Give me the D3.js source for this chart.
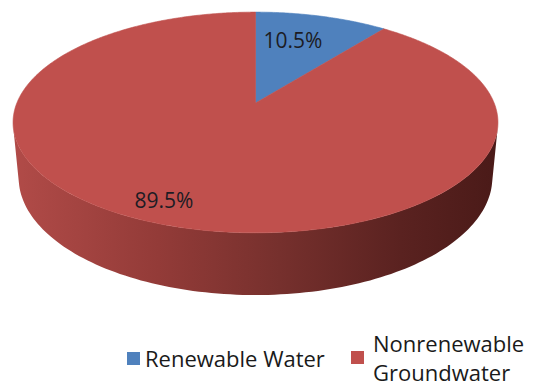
<!DOCTYPE html>
<html>
<head>
<meta charset="utf-8">
<script src="https://cdn.jsdelivr.net/npm/d3@7/dist/d3.min.js"></script>
<style>
  html, body { margin: 0; padding: 0; background: #fff; }
  svg { display: block; }
  text { font-family: "Open Sans", "Noto Sans", sans-serif; }
</style>
</head>
<body>
<svg id="chart" width="537" height="388"></svg>
<script>
// ---- data ----
const categories = ["Renewable Water", "Nonrenewable Groundwater"];
const values = [10.5, 89.5];
const valueLabels = ["10.5%", "89.5%"];
const legendLines = [["Renewable Water"], ["Nonrenewable", "Groundwater"]];

// ---- styling ----
const colors = ["#4F81BD", "#C0504D"];
const W = 537, H = 388;
const svg = d3.select("#chart");

// perspective projection of a unit-radius disc
const elev = Math.asin(0.448);
const s = Math.sin(elev), c = Math.cos(elev);
const D = 5.07, f = 1210, thick = 0.261;
const cx = 255.5, cy = 103;
function proj(a, r, Y) {
  const X = r * Math.sin(a), Z = r * Math.cos(a);
  const yc = Y * c + Z * s;
  const zc = D + Z * c - Y * s;
  return [cx + f * X / zc, cy - f * yc / zc];
}

const pie = d3.pie().sort(null).value(d => d)(values);

// gradient for side
const defs = svg.append("defs");
const grad = defs.append("linearGradient").attr("id", "sideGrad")
  .attr("gradientUnits", "userSpaceOnUse")
  .attr("x1", 13).attr("x2", 498).attr("y1", 0).attr("y2", 0);
[[0, "#b14b48"], [0.3, "#933b38"], [0.55, "#76302d"], [0.8, "#5a2220"], [1, "#4a1a18"]]
  .forEach(([o, col]) => grad.append("stop").attr("offset", o).attr("stop-color", col));

// side (visible range)
const a0 = Math.acos(-1 / (D * c)), a1 = 2 * Math.PI - a0;
const n = 120;
const sidePts = [];
for (let i = 0; i <= n; i++) sidePts.push(proj(a0 + (a1 - a0) * i / n, 1, 0));
for (let i = n; i >= 0; i--) sidePts.push(proj(a0 + (a1 - a0) * i / n, 1, -thick));
svg.append("path")
  .attr("d", d3.line()(sidePts) + "Z")
  .attr("fill", "url(#sideGrad)");

// top face slices
pie.forEach((d, i) => {
  const pts = [proj(0, 0, 0)];
  const steps = Math.max(8, Math.ceil((d.endAngle - d.startAngle) / 0.01));
  for (let k = 0; k <= steps; k++) {
    pts.push(proj(d.startAngle + (d.endAngle - d.startAngle) * k / steps, 1, 0));
  }
  svg.append("path")
    .attr("d", d3.line()(pts) + "Z")
    .attr("fill", colors[i])
    .attr("stroke", colors[i]).attr("stroke-width", 0.6);
});

// data labels
const labelR = [0.675, 0.85], labelDA = [-0.068, 0.07];
const labelFs = 21;
pie.forEach((d, i) => {
  const mid = (d.startAngle + d.endAngle) / 2 + labelDA[i];
  const p = proj(mid, labelR[i], 0);
  svg.append("text")
    .attr("x", p[0]).attr("y", p[1] + 0.36 * labelFs)
    .attr("text-anchor", "middle")
    .attr("font-size", labelFs)
    .attr("fill", "#1c1c24")
    .text(valueLabels[i]);
});

// legend
const legFs = 22;
const legItems = [
  { x: 127, sqY: 352, tx: 145, ty: 367 },
  { x: 351, sqY: 351, tx: 373, ty: 352 }
];
legItems.forEach((L, i) => {
  svg.append("rect").attr("x", L.x).attr("y", L.sqY).attr("width", 13).attr("height", 13)
    .attr("fill", colors[i]);
  const t = svg.append("text").attr("x", L.tx).attr("y", L.ty)
    .attr("font-size", legFs).attr("fill", "#1a1a1a");
  legendLines[i].forEach((line, j) => {
    t.append("tspan").attr("x", L.tx).attr("dy", j === 0 ? 0 : 29).text(line);
  });
});
</script>
</body>
</html>
